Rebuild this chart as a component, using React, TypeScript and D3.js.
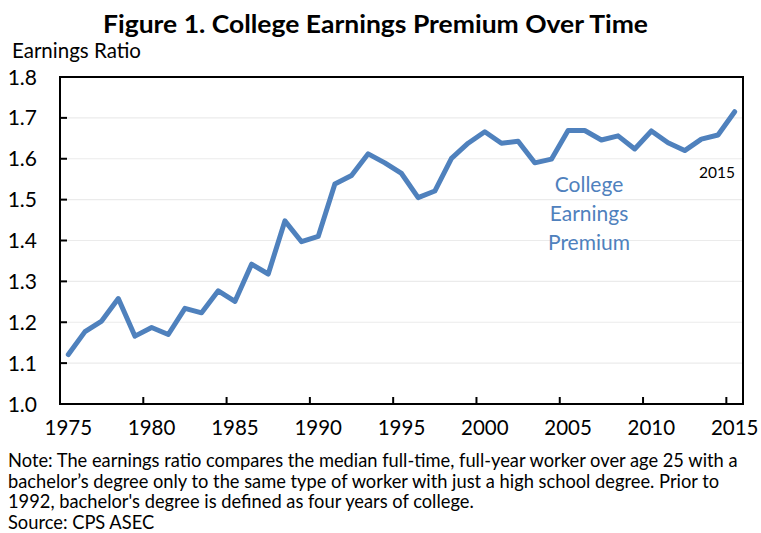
import React from "react";
import * as d3 from "d3";

const years: number[] = [
  1975, 1976, 1977, 1978, 1979, 1980, 1981, 1982, 1983, 1984,
  1985, 1986, 1987, 1988, 1989, 1990, 1991, 1992, 1993, 1994,
  1995, 1996, 1997, 1998, 1999, 2000, 2001, 2002, 2003, 2004,
  2005, 2006, 2007, 2008, 2009, 2010, 2011, 2012, 2013, 2014, 2015,
];
const ratio: number[] = [
  1.121, 1.177, 1.203, 1.258, 1.166, 1.187, 1.17, 1.234, 1.223, 1.277,
  1.251, 1.342, 1.318, 1.448, 1.397, 1.41, 1.538, 1.559, 1.612, 1.59,
  1.564, 1.505, 1.521, 1.601, 1.638, 1.666, 1.638, 1.643, 1.59, 1.599,
  1.669, 1.669, 1.646, 1.656, 1.624, 1.668, 1.639, 1.62, 1.648, 1.658, 1.715,
];
const yTicks: number[] = [1.0, 1.1, 1.2, 1.3, 1.4, 1.5, 1.6, 1.7, 1.8];
const xLabelYears: number[] = [1975, 1980, 1985, 1990, 1995, 2000, 2005, 2010, 2015];
const title = "Figure 1. College Earnings Premium Over Time";
const yAxisTitle = "Earnings Ratio";
const seriesLabel: string[] = ["College", "Earnings", "Premium"];
const endLabel = "2015";
const noteLines: string[] = [
  "Note: The earnings ratio compares the median full-time, full-year worker over age 25 with a",
  "bachelor\u2019s degree only to the same type of worker with just a high school degree. Prior to",
  "1992, bachelor's degree is defined as four years of college.",
  "Source: CPS ASEC",
];

const W = 761;
const H = 533;
const left = 60;
const right = 743;
const top = 77;
const bottom = 404;
const blue = "#4F81BD";
const font = "Lato, 'Open Sans', sans-serif";

export default function App() {
  const x = d3
    .scaleBand<number>()
    .domain(years)
    .range([left, right])
    .paddingInner(0)
    .paddingOuter(0);
  const bw = x.bandwidth();
  const cx = (yr: number) => (x(yr) as number) + bw / 2;
  const y = d3.scaleLinear().domain([1.0, 1.8]).range([bottom, top]);

  const line = d3
    .line<number>()
    .x((_, i) => cx(years[i]))
    .y((d) => y(d));

  return (
    <div style={{ position: "absolute", left: 0, top: 0 }}>
      <svg width={W} height={H} style={{ display: "block", background: "#fff" }}>
        <text
          x={375.5}
          y={33}
          textAnchor="middle"
          fontFamily={font}
          fontWeight="bold"
          fontSize={24.5}
          fill="#000"
          textLength={545}
          lengthAdjust="spacingAndGlyphs"
        >
          {title}
        </text>
        <text x={12} y={58} fontFamily={font} fontSize={20.5} fill="#000">
          {yAxisTitle}
        </text>

        {/* gridlines */}
        {yTicks
          .filter((t) => t > 1.0 && t < 1.8)
          .map((t) => (
            <line
              key={"g" + t}
              x1={left}
              x2={right}
              y1={y(t)}
              y2={y(t)}
              stroke="#ebebeb"
              strokeWidth={1.2}
            />
          ))}

        {/* frame */}
        <rect
          x={left}
          y={top}
          width={right - left}
          height={bottom - top}
          fill="none"
          stroke="#000"
          strokeWidth={2}
        />

        {/* y ticks and labels */}
        {yTicks.map((t) => (
          <g key={"y" + t}>
            <line x1={left} x2={left + 7} y1={y(t)} y2={y(t)} stroke="#000" strokeWidth={2} />
            <text
              x={37}
              y={y(t)}
              dy="0.36em"
              textAnchor="end"
              fontFamily={font}
              fontSize={21}
              fill="#000"
            >
              {t.toFixed(1)}
            </text>
          </g>
        ))}

        {/* x ticks and labels */}
        {xLabelYears.map((yr) => (
          <g key={"x" + yr}>
            <line
              x1={x(yr) as number}
              x2={x(yr) as number}
              y1={bottom}
              y2={bottom - 7}
              stroke="#000"
              strokeWidth={2}
            />
            <text
              x={cx(yr)}
              y={435}
              textAnchor="middle"
              fontFamily={font}
              fontSize={20.5}
              fill="#000"
            >
              {yr}
            </text>
          </g>
        ))}

        {/* series */}
        <path
          d={line(ratio) || ""}
          fill="none"
          stroke={blue}
          strokeWidth={5}
          strokeLinejoin="round"
          strokeLinecap="round"
        />

        {seriesLabel.map((s, i) => (
          <text
            key={s}
            x={589}
            y={192 + i * 29}
            textAnchor="middle"
            fontFamily={font}
            fontSize={21}
            fill={blue}
          >
            {s}
          </text>
        ))}

        <text x={717} y={178} textAnchor="middle" fontFamily={font} fontSize={15.5} fill="#000">
          {endLabel}
        </text>

        {noteLines.map((s, i) => (
          <text
            key={i}
            x={8}
            y={467 + i * 20.7}
            fontFamily={font}
            fontSize={18.3}
            fill="#000"
          >
            {s}
          </text>
        ))}
      </svg>
    </div>
  );
}
